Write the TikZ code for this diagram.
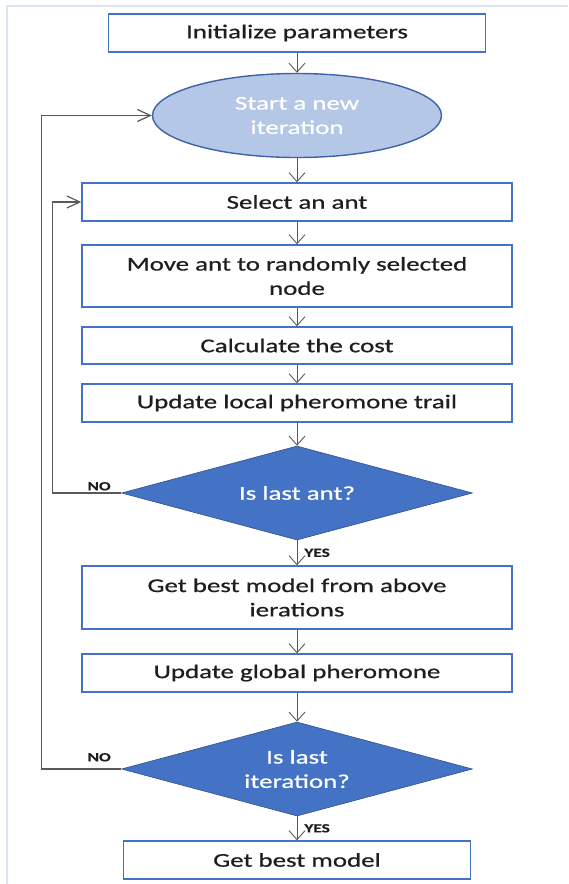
\documentclass[tikz,border=0pt]{standalone}
\usepackage{fontspec}
\setmainfont{Carlito}[FakeStretch=1.38, FakeBold=0.7]
\usetikzlibrary{shapes.geometric,arrows.meta,positioning}

\definecolor{boxblue}{HTML}{4472C4}
\definecolor{ovalfill}{HTML}{B4C7E7}
\definecolor{ovaledge}{HTML}{3F62A8}
\definecolor{diaedge}{HTML}{2F528F}
\definecolor{linegrey}{HTML}{595959}
\definecolor{framecol}{HTML}{DAE3F3}
\definecolor{txtcol}{HTML}{1E1E1E}

\begin{document}
\begin{tikzpicture}[x=1pt, y=1pt,
        every node/.style={font=\fontsize{19.5pt}{24.3pt}\selectfont, align=center, inner sep=0pt},
        stepbox/.style={draw=boxblue, line width=1.4pt, fill=white, text=txtcol, minimum width=430pt, minimum height=38pt},
        oval/.style={ellipse, draw=ovaledge, line width=1.4pt, fill=ovalfill, text=white, minimum width=289pt, minimum height=84pt},
        check/.style={diamond, aspect=3.73, draw=diaedge, line width=0.6pt, fill=boxblue, text=white, minimum width=351pt, minimum height=94pt},
        answer/.style={font=\fontsize{12.5pt}{14pt}\selectfont\bfseries, text=txtcol, inner sep=1pt},
        flow/.style={draw=linegrey, line width=0.9pt, -{Straight Barb[length=9pt,width=16pt]}},
        loopline/.style={draw=linegrey, line width=1.2pt, -{Straight Barb[length=13pt,width=12pt]}}]
        \useasboundingbox (0,0) rectangle (568,-884);
        \draw[draw=framecol, line width=1.5pt] (7,-884) -- (7,-6) -- (568,-6);

        % main column
        \node[stepbox, minimum width=377pt] (init) at (297,-33) {Initialize parameters};
        \node[oval] (start) at (297,-115.5) {Start a new\\iteration};
        \node[stepbox] (select) at (297,-202) {Select an ant};
        \node[stepbox, minimum height=62pt] (move) at (297,-276) {Move ant to randomly selected\\node};
        \node[stepbox, minimum height=37pt] (cost) at (297,-345.5) {Calculate the cost};
        \node[stepbox] (local) at (297,-403) {Update local pheromone trail};
        \node[check] (lastant) at (297,-493) {Is last ant?};
        \node[stepbox, minimum height=63pt] (best) at (297,-597.5) {Get best model from above\\ierations};
        \node[stepbox] (global) at (297,-673) {Update global pheromone};
        \node[check] (lastit) at (297,-769) {Is last\\iteration?};
        \node[stepbox, minimum width=347pt] (final) at (297,-860) {Get best model};

        \draw[flow] (init.south) -- (start.north);
        \draw[flow] (start.south) -- (select.north);
        \draw[flow] (select.south) -- (move.north);
        \draw[flow] (move.south) -- (cost.north);
        \draw[flow] (cost.south) -- (local.north);
        \draw[flow] (local.south) -- (lastant.north);
        \draw[flow] (lastant.south) -- node[answer, right=6pt] {YES} (best.north);
        \draw[flow] (best.south) -- (global.north);
        \draw[flow] (global.south) -- (lastit.north);
        \draw[flow] (lastit.south) -- node[answer, right=6pt] {YES} (final.north);

        % loops back
        \draw[loopline] (lastant.west) -- node[answer, pos=0.32, above=1pt] {NO} ++(-69,0) |- (select.west);
        \draw[loopline] (lastit.west) -- node[answer, pos=0.275, above=6pt] {NO} ++(-80,0) |- (start.west);
\end{tikzpicture}
\end{document}
